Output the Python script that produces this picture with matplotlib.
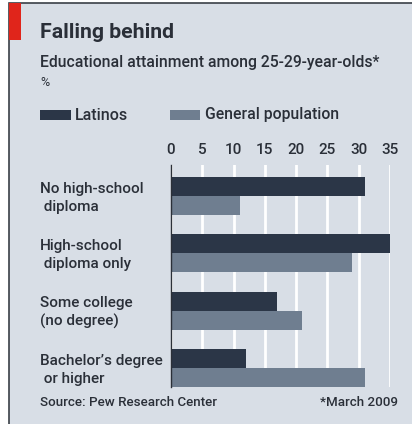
import matplotlib
matplotlib.use("Agg")
import matplotlib.pyplot as plt
import matplotlib.transforms as mtransforms
from matplotlib.patches import Rectangle

# data
categories = ["No high-school\n diploma", "High-school\n diploma only",
              "Some college\n(no degree)", "Bachelor\u2019s degree\n or higher"]
latinos = [31, 35, 17, 12]
general = [11, 29, 21, 31]
ticks = [0, 5, 10, 15, 20, 25, 30, 35]

bg = "#d8dee6"
dark = "#2b3647"
light = "#6f7e90"
red = "#e0251b"
txt = "#2a2f38"

plt.rcParams['font.family'] = ['Roboto', 'DejaVu Sans']

W, H = 412, 424
fig = plt.figure(figsize=(W / 100, H / 100), dpi=100)
fig.patch.set_facecolor("white")

def px(x, y):
    # pixel position (from top-left) to figure fraction
    return x / W, 1 - y / H

# panel background with frame
panel = Rectangle((9 / W, -0.05), 1.0, 1 - 3 / H + 0.05, transform=fig.transFigure,
                  facecolor=bg, edgecolor="#3a3f47", linewidth=1.2, zorder=-2)
fig.patches.append(panel)
fig.patches.append(Rectangle((9 / W, 1 - 40 / H), 12 / W, 37 / H, transform=fig.transFigure,
                             facecolor=red, edgecolor="none", zorder=-1))

# titles
fig.text(*px(40, 33), "Falling behind", fontsize=15.3, fontweight="bold", color=txt, va="center")
fig.text(*px(40, 62), "Educational attainment among 25-29-year-olds*", fontsize=11.3,
         fontweight="medium", color=txt, va="center")
fig.text(*px(40, 82), "%", fontsize=9, color=txt, va="center")

# legend
fig.patches.append(Rectangle(px(40, 120), 31 / W, 10 / H, transform=fig.transFigure,
                             facecolor=dark, edgecolor="none"))
fig.text(*px(75, 115), "Latinos", fontsize=11.5, fontweight="medium", color=txt, va="center")
fig.patches.append(Rectangle(px(170, 120), 30 / W, 10 / H, transform=fig.transFigure,
                             facecolor=light, edgecolor="none"))
fig.text(*px(205, 115), "General population", fontsize=11.3, fontweight="medium",
         color=txt, va="center")

# bar chart
left, right, top, bottom = 171, 390, 165, 387
ax = fig.add_axes([left / W, 1 - bottom / H, (right - left) / W, (bottom - top) / H])
ax.set_facecolor(bg)
bh = 1 / 3
pos = list(range(len(categories)))
ax.barh([p - bh / 2 for p in pos], latinos, height=bh, color=dark, zorder=3)
ax.barh([p + bh / 2 for p in pos], general, height=bh, color=light, zorder=3)
ax.set_xlim(0, 35)
ax.set_ylim(3 + bh, -0.544)
ax.set_xticks(ticks)
ax.xaxis.tick_top()
ax.tick_params(axis="x", length=0, pad=6, labelsize=11, colors=txt)
for lb in ax.get_xticklabels():
    lb.set_fontweight("medium")
ax.set_yticks([])
ax.set_axisbelow(True)
ax.grid(axis="x", color="white", linewidth=2.0)
for s in ["top", "right", "bottom"]:
    ax.spines[s].set_visible(False)
ax.spines["left"].set_color("#2b3038")
ax.spines["left"].set_linewidth(1.0)
ax.spines["left"].set_zorder(4)

# category labels, left aligned
trans = mtransforms.blended_transform_factory(fig.transFigure, ax.transData)
for p, c in zip(pos, categories):
    fig.text(40 / W, p + 0.03, c, transform=trans, fontsize=11, fontweight="medium",
             color=txt, va="center", linespacing=1.35)

# footer
fig.text(*px(40, 402), "Source: Pew Research Center", fontsize=9.6, fontweight="medium",
         color=txt, va="center")
fig.text(*px(398, 402), "*March 2009", fontsize=9.6, fontweight="medium", color=txt,
         va="center", ha="right")

fig.savefig("out.png", dpi=100, facecolor=fig.get_facecolor())
